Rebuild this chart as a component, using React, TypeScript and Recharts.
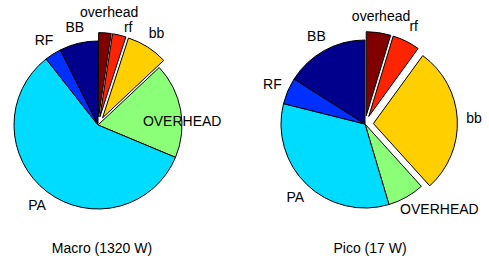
import { Cell, Pie, PieChart, Sector } from 'recharts';

const SLICE_NAMES = ['overhead', 'rf', 'bb', 'OVERHEAD', 'PA', 'RF', 'BB'];
const MACRO_SHARE = [2.4, 2.6, 8.0, 18.3, 58.1, 3.2, 7.4];
const PICO_SHARE = [4.7, 5.3, 28.3, 7.1, 33.5, 5.1, 16.0];
const EXPLODED = ['overhead', 'rf', 'bb'];
const TITLES = ['Macro (1320 W)', 'Pico (17 W)'];

const COLORS: Record<string, string> = {
  overhead: '#800000',
  rf: '#ff2400',
  bb: '#ffcf00',
  OVERHEAD: '#8cff78',
  PA: '#00dcff',
  RF: '#0030ff',
  BB: '#00008c',
};

const FONT = '"Liberation Sans", Arial, Helvetica, sans-serif';
const RADIUS = 84;
const RAD = Math.PI / 180;
// PieChart keeps a 5px margin, cx/cy are measured from inside it
const MARGIN = 5;

// label nudges where the original placement drifted away from 1.2r
const LABEL_NUDGE: Record<string, Record<string, [number, number]>> = {
  macro: { OVERHEAD: [-15, 14], overhead: [3, -4], rf: [5, 8] },
  pico: { OVERHEAD: [25, -3] },
};

const macroData = SLICE_NAMES.map((name, i) => ({ name, value: MACRO_SHARE[i] }));
const picoData = SLICE_NAMES.map((name, i) => ({ name, value: PICO_SHARE[i] }));

const explodeOffset = (name: string, r: number) => (EXPLODED.includes(name) ? r * 0.1 : 0);

const renderSlice = (props: any) => {
  const { cx, cy, midAngle, outerRadius, name } = props;
  const off = explodeOffset(name, outerRadius);
  return (
    <Sector
      {...props}
      cx={cx + off * Math.cos(-midAngle * RAD)}
      cy={cy + off * Math.sin(-midAngle * RAD)}
    />
  );
};

const makeLabel = (chart: string) => (props: any) => {
  const { cx, cy, midAngle, outerRadius, name } = props;
  const r = outerRadius * 1.2 + explodeOffset(name, outerRadius);
  const [dx, dy] = LABEL_NUDGE[chart][name] ?? [0, 0];
  return (
    <text
      x={cx + r * Math.cos(-midAngle * RAD) + dx}
      y={cy + r * Math.sin(-midAngle * RAD) + dy}
      textAnchor="middle"
      dominantBaseline="central"
      fill="#000"
      fontSize={14}
      fontFamily={FONT}
    >
      {name}
    </text>
  );
};

export default function App() {
  return (
    <div style={{ position: 'absolute', left: 0, top: 0, width: 489, height: 261, background: '#fff' }}>
      <PieChart width={489} height={261}>
        <Pie
          data={macroData}
          dataKey="value"
          nameKey="name"
          cx={98 - MARGIN}
          cy={125 - MARGIN}
          outerRadius={RADIUS}
          startAngle={90}
          endAngle={-270}
          stroke="#000"
          strokeWidth={1}
          shape={renderSlice}
          activeShape={renderSlice}
          label={makeLabel('macro')}
          labelLine={false}
          isAnimationActive={false}
        >
          {macroData.map((d) => (
            <Cell key={d.name} fill={COLORS[d.name]} />
          ))}
        </Pie>
        <Pie
          data={picoData}
          dataKey="value"
          nameKey="name"
          cx={365 - MARGIN}
          cy={124 - MARGIN}
          outerRadius={RADIUS}
          startAngle={90}
          endAngle={-270}
          stroke="#000"
          strokeWidth={1}
          shape={renderSlice}
          activeShape={renderSlice}
          label={makeLabel('pico')}
          labelLine={false}
          isAnimationActive={false}
        >
          {picoData.map((d) => (
            <Cell key={d.name} fill={COLORS[d.name]} />
          ))}
        </Pie>
      </PieChart>
      {TITLES.map((t, i) => (
        <div
          key={t}
          style={{
            position: 'absolute',
            left: i === 0 ? 102 - 80 : 370 - 80,
            width: 160,
            top: 240,
            textAlign: 'center',
            fontFamily: FONT,
            fontSize: 14,
            color: '#000',
          }}
        >
          {t}
        </div>
      ))}
    </div>
  );
}
